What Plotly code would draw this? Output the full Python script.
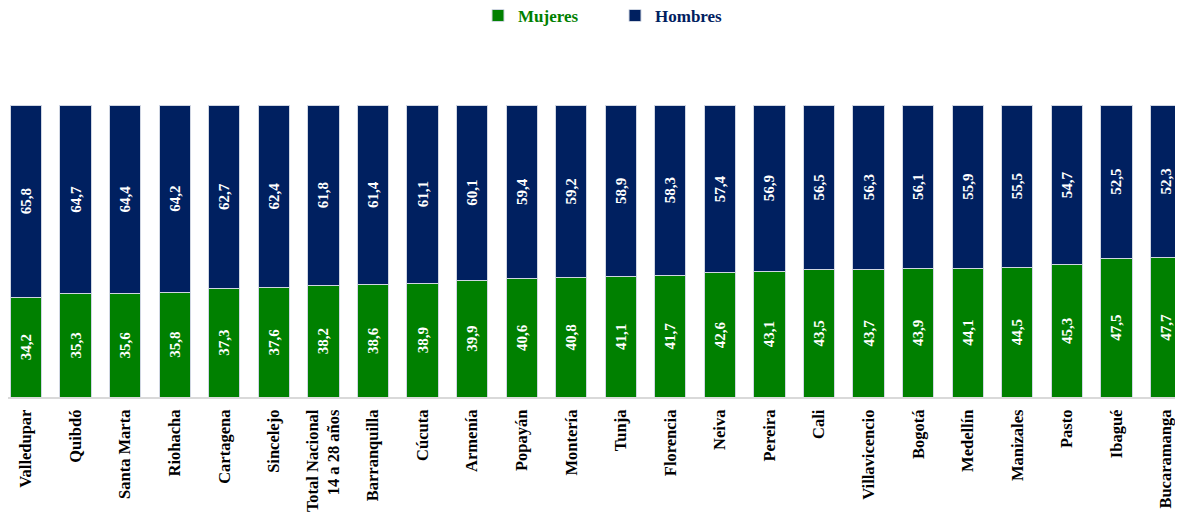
import plotly.graph_objects as go

ciudades = ["Valledupar", "Quibdó", "Santa Marta", "Riohacha", "Cartagena", "Sincelejo",
            "Total Nacional<br>14 a 28 años", "Barranquilla", "Cúcuta", "Armenía", "Popayán",
            "Montería", "Tunja", "Florencia", "Neiva", "Pereira", "Cali", "Villavicencio",
            "Bogotá", "Medellín", "Manizales", "Pasto", "Ibagué", "Bucaramanga"]
mujeres = [34.2, 35.3, 35.6, 35.8, 37.3, 37.6, 38.2, 38.6, 38.9, 39.9, 40.6, 40.8,
           41.1, 41.7, 42.6, 43.1, 43.5, 43.7, 43.9, 44.1, 44.5, 45.3, 47.5, 47.7]
hombres = [65.8, 64.7, 64.4, 64.2, 62.7, 62.4, 61.8, 61.4, 61.1, 60.1, 59.4, 59.2,
           58.9, 58.3, 57.4, 56.9, 56.5, 56.3, 56.1, 55.9, 55.5, 54.7, 52.5, 52.3]

verde = "#008000"
azul = "#002060"

fig = go.Figure()
for name, vals, col in [("Mujeres", mujeres, verde), ("Hombres", hombres, azul)]:
    fig.add_trace(go.Bar(
        x=list(range(len(ciudades))), y=vals,
        name="<b><span style='color:%s'>%s</span></b>" % (col, name),
        marker=dict(color=col, line=dict(color="#d0d6e2", width=1)),
        texttemplate="<b>%{y:.1f}</b>", textposition="inside", insidetextanchor="middle",
        textangle=-90, textfont=dict(color="white", size=15, family="Liberation Serif"),
    ))

fig.update_layout(
    barmode="stack", bargap=0.37, separators=",.",
    width=1175, height=506,
    margin=dict(l=0, r=0, t=97, b=117, autoexpand=False),
    plot_bgcolor="white", paper_bgcolor="white",
    legend=dict(orientation="h", x=0.4, xanchor="left", y=1.305, yanchor="middle",
                font=dict(family="Liberation Serif", size=17, color="#1f1f1f"),
                traceorder="normal", entrywidth=92, itemwidth=30),
    showlegend=True,
)
fig.update_xaxes(tickmode="array", tickvals=list(range(len(ciudades))), ticktext=["<b>%s</b>" % c for c in ciudades],
                 tickangle=-90, range=[-0.363, 23.343], showline=True, linecolor="#d9d9d9", linewidth=2,
                 tickfont=dict(family="Liberation Serif", size=16.5, color="black"), ticks="", automargin=False,
                 ticklabelstandoff=4)
fig.update_yaxes(range=[0, 100], visible=False)

fig.write_html("out.html")
